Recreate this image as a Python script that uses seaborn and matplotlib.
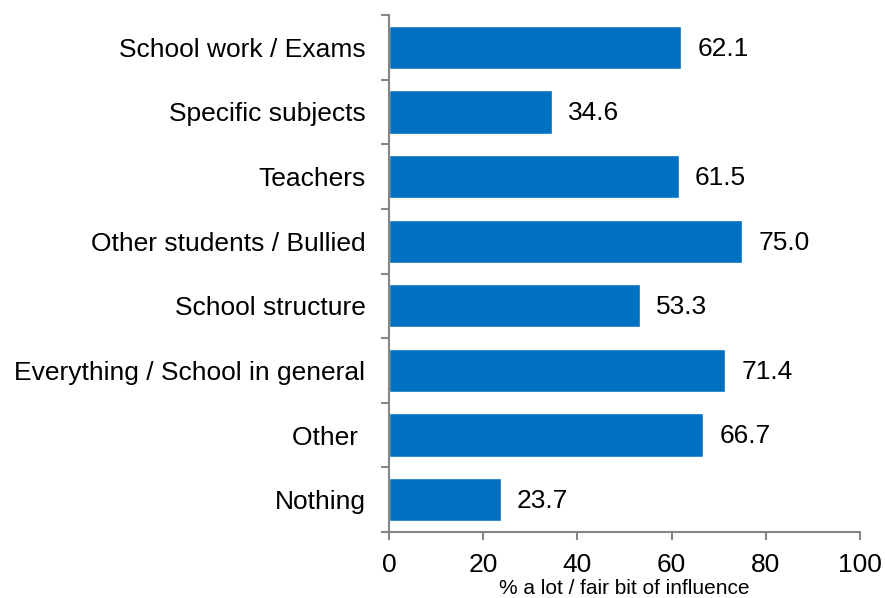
import matplotlib
matplotlib.use('Agg')
import matplotlib.pyplot as plt
import seaborn as sns
import pandas as pd
import numpy as np

categories = ['School work / Exams', 'Specific subjects', 'Teachers',
              'Other students / Bullied', 'School structure',
              'Everything / School in general', 'Other ', 'Nothing']
values = [62.1, 34.6, 61.5, 75.0, 53.3, 71.4, 66.7, 23.7]
x_ticks = [0, 20, 40, 60, 80, 100]

df = pd.DataFrame({'category': categories, 'value': values})

sns.set_style('white')
plt.rcParams['font.family'] = ['Liberation Sans', 'DejaVu Sans']
plt.rcParams['text.color'] = 'black'
plt.rcParams['xtick.color'] = 'black'
plt.rcParams['ytick.color'] = 'black'
plt.rcParams['axes.labelcolor'] = 'black'

fig = plt.figure(figsize=(8.85, 5.98), dpi=100)
ax = fig.add_axes([389 / 885, 1 - 532 / 598, 471 / 885, 517 / 598])

sns.barplot(data=df, x='value', y='category', color='#0070C0', width=0.67,
            saturation=1, ax=ax, orient='h')

for i, v in enumerate(values):
    ax.annotate(f'{v:.1f}', xy=(v, i), xytext=(11.5, -1), textcoords='offset points',
                va='center', ha='left', fontsize=19, color='black')

grey = '#868686'
ax.set_xlim(0, 100)
ax.set_ylim(len(categories) - 0.5, -0.5)
ax.set_xticks(x_ticks)
ax.set_xticklabels([str(t) for t in x_ticks], fontsize=19)
ax.tick_params(axis='x', bottom=True, length=6, width=1.5, color=grey,
               labelcolor='black', direction='out', pad=9)
ax.tick_params(axis='y', which='major', left=True, length=0, labelsize=19,
               labelcolor='black', pad=17)
ax.set_yticks(np.arange(len(categories) + 1) - 0.5, minor=True)
ax.tick_params(axis='y', which='minor', left=True, length=6, width=1.5,
               color=grey, direction='out')

for side in ['top', 'right']:
    ax.spines[side].set_visible(False)
for side in ['left', 'bottom']:
    ax.spines[side].set_color(grey)
    ax.spines[side].set_linewidth(1.5)

ax.set_ylabel('')
ax.set_xlabel('% a lot / fair bit of influence', fontsize=15, labelpad=1.5)

fig.savefig('out.png', dpi=100)
